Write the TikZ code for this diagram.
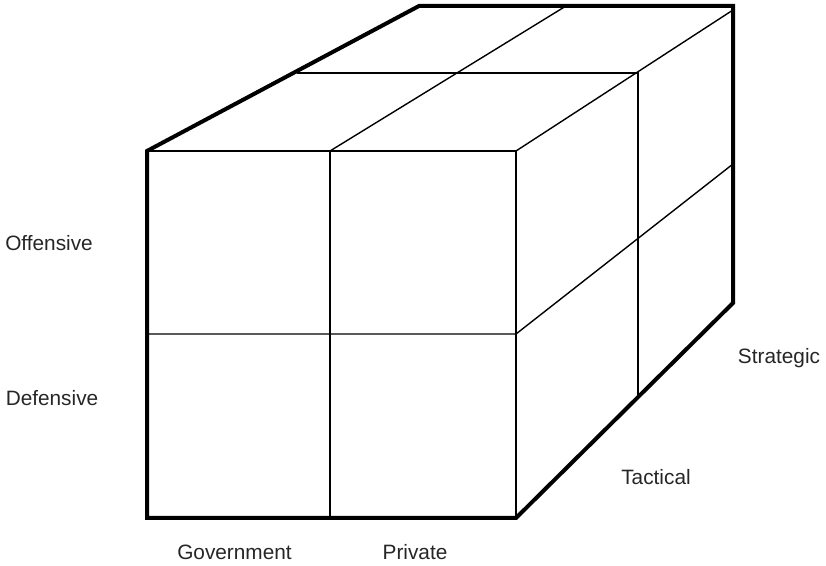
\documentclass[tikz,border=0pt]{standalone}
\usepackage{fontspec}
\setmainfont{Liberation Sans}
\begin{document}
\begin{tikzpicture}[x=0.5pt,y=-0.5pt,
  thickline/.style={line width=2pt,line join=miter},
  thinline/.style={line width=0.7pt},
  lbl/.style={font=\fontsize{10.4pt}{12pt}\selectfont,inner sep=0pt,text=black!85}]
\useasboundingbox (0,0) rectangle (826,566);
% corners
\coordinate (FTL) at (147,151);
\coordinate (FTR) at (516,151);
\coordinate (FBL) at (147,518);
\coordinate (FBR) at (516,518);
\coordinate (BTL) at (419,6);
\coordinate (BTR) at (733,6);
\coordinate (BTRi) at (733,10);
\coordinate (BBR) at (733,303);
% grid points
\coordinate (FML) at (147,334);
\coordinate (FMR) at (516,334);
\coordinate (FMT) at (330,151);
\coordinate (FMB) at (330,518);
\coordinate (TMB) at (566,6);
\coordinate (TML) at (297,73);
\coordinate (TMR) at (638,73);
\coordinate (RMB) at (638,396);
\coordinate (RMR) at (733,164);
% thin lines
\draw[thinline] (FTL) -- (FTR) -- (FBR);
\draw[thinline] (FTR) -- (BTRi);
\draw[thinline] (FML) -- (FMR) -- (RMR);
\draw[thinline] (FMT) -- (FMB);
\draw[thinline] (FMT) -- (TMB);
\draw[thinline] (TML) -- (TMR) -- (RMB);
% thick outline
\draw[thickline] (FBL) -- (FTL) -- (BTL) -- (BTR) -- (BBR) -- (FBR) -- cycle;
% labels
\node[lbl] (off) at (49,243) {Offensive};
\node[lbl] (def) at (52,398) {Defensive};
\node[lbl] (gov) at (234.5,552) {Government};
\node[lbl] (pri) at (415,552) {Private};
\node[lbl] (tac) at (656,477) {Tactical};
\node[lbl] (str) at (779,358) {Strategic};
\end{tikzpicture}
\end{document}
